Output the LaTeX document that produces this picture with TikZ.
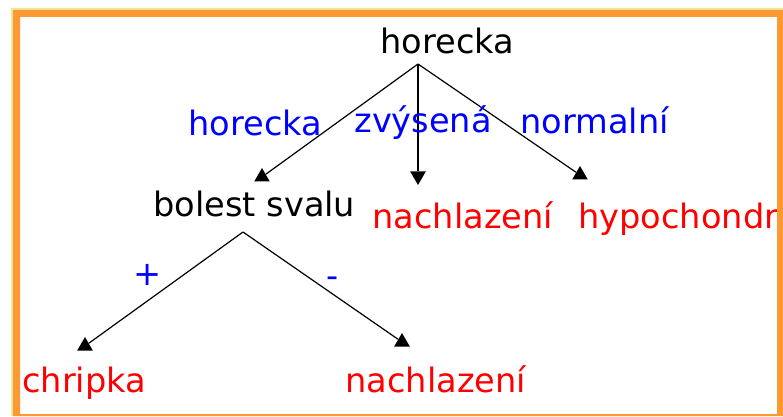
\documentclass[tikz,border=0pt]{standalone}
\usepackage{fontspec}
\setmainfont{DejaVu Sans}
\usetikzlibrary{shapes.geometric}
\definecolor{moldura}{RGB}{255,153,51}
\definecolor{filete}{RGB}{236,232,150}
\begin{document}
\begin{tikzpicture}[x=0.5pt, y=-0.5pt,
        every node/.style={font=\fontsize{16.8}{19}\selectfont, inner sep=0pt, anchor=base west},
        valor/.style={text=blue},
        folha/.style={text=red},
        ponta/.style={regular polygon, regular polygon sides=3, fill=black,
            minimum size=9pt, anchor=center},
        ramo/.style={black, line width=0.6pt}]
        \useasboundingbox (0,0) rectangle (783,417);
        \fill[white] (0,0) rectangle (783,417);

        % Raiz
        \node (raiz) at (380,54) {horecka};
        \coordinate (f1) at (418,64);

        % Pontas das setas (nivel 1)
        \node[ponta] (t1) at (262,177) {};
        \node[ponta, shape border rotate=180] (t2) at (418,176) {};
        \node[ponta] (t3) at (580,175) {};
        \draw[ramo] (f1) -- (t1);
        \draw[ramo] (f1) -- (t2);
        \draw[ramo] (f1) -- (t3);

        % Valores do atributo
        \node[valor] (v1) at (188,136) {horecka};
        \node[valor] (v2) at (354,133) {zvýsená};
        \node[valor] (v3) at (520,134) {normalní};

        % Nivel 1
        \node (svaly) at (153,217) {bolest svalu};
        \node[folha] (nach1) at (372,229) {nachlazení};
        \node[folha] (hypo) at (578,228) {hypochondr};

        % Sub-arvore
        \coordinate (f2) at (243,232);
        \node[ponta] (t4) at (85,346) {};
        \node[ponta] (t5) at (402,342) {};
        \draw[ramo] (f2) -- (t4);
        \draw[ramo] (f2) -- (t5);
        \node[valor, anchor=center] (mais) at (148,275) {+};
        \node[valor, anchor=center] (menos) at (333,282) {-};

        % Folhas
        \node[folha] (chripka) at (22,393) {chripka};
        \node[folha] (nach2) at (345,393) {nachlazení};

        % Moldura
        \fill[filete, even odd rule] (11,8) rectangle (783,416) (13,10) rectangle (783,416);
        \fill[moldura, even odd rule] (13,10) rectangle (783,416) (20,17) rectangle (777,414);
    \end{tikzpicture}
\end{document}
